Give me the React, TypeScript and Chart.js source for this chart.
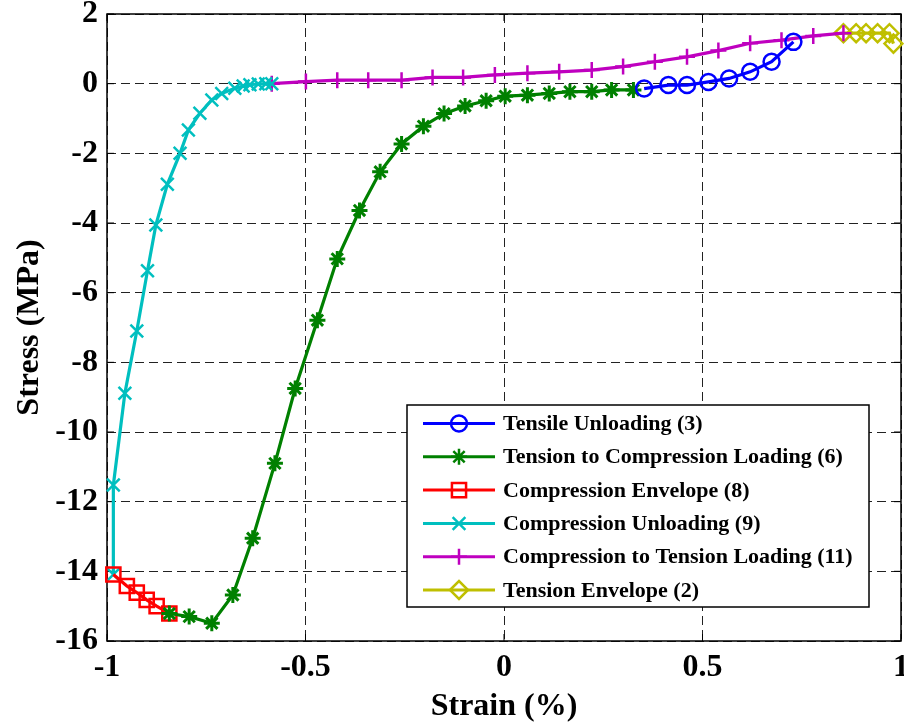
import React, { useEffect, useRef } from 'react';
import { Chart, registerables } from 'chart.js';

Chart.register(...registerables);

// ---- tick labels ----
const xTickValues = [-1, -0.5, 0, 0.5, 1];
const xTickLabels = ['-1', '-0.5', '0', '0.5', '1'];
const yTickValues = [-16, -14, -12, -10, -8, -6, -4, -2, 0, 2];
const yTickLabels = ['-16', '-14', '-12', '-10', '-8', '-6', '-4', '-2', '0', '2'];

// ---- series labels ----
const seriesLabels = [
  'Tensile Unloading (3)',
  'Tension to Compression Loading (6)',
  'Compression Envelope (8)',
  'Compression Unloading (9)',
  'Compression to Tension Loading (11)',
  'Tension Envelope (2)',
];

// ---- series values (strain %, stress MPa) ----
const tensileUnloadingX = [0.729, 0.674, 0.620, 0.567, 0.515, 0.461, 0.414, 0.353];
const tensileUnloadingY = [1.20, 0.63, 0.34, 0.15, 0.05, -0.04, -0.04, -0.14];

const tensionToCompX = [-0.843, -0.793, -0.736, -0.683, -0.633, -0.577, -0.526, -0.470, -0.420, -0.364, -0.312, -0.258, -0.203, -0.151, -0.098, -0.045, 0.003, 0.059, 0.114, 0.166, 0.221, 0.271, 0.326];
const tensionToCompY = [-15.21, -15.30, -15.49, -14.68, -13.05, -10.90, -8.75, -6.79, -5.03, -3.64, -2.53, -1.73, -1.22, -0.86, -0.64, -0.49, -0.36, -0.33, -0.28, -0.23, -0.23, -0.18, -0.18];

const compEnvelopeX = [-0.984, -0.950, -0.925, -0.900, -0.875, -0.843];
const compEnvelopeY = [-14.09, -14.42, -14.61, -14.82, -15.00, -15.21];

const compUnloadingX = [-0.984, -0.984, -0.955, -0.925, -0.898, -0.877, -0.848, -0.816, -0.795, -0.766, -0.736, -0.711, -0.678, -0.657, -0.640, -0.619, -0.600, -0.585];
const compUnloadingY = [-14.09, -11.52, -8.89, -7.10, -5.37, -4.06, -2.89, -2.00, -1.33, -0.85, -0.47, -0.28, -0.13, -0.07, -0.03, -0.01, 0.0, 0.0];

const compToTensionX = [-0.585, -0.499, -0.420, -0.342, -0.258, -0.180, -0.103, -0.023, 0.059, 0.139, 0.221, 0.300, 0.380, 0.461, 0.540, 0.620, 0.699, 0.779, 0.855];
const compToTensionY = [0.00, 0.06, 0.10, 0.10, 0.10, 0.18, 0.18, 0.25, 0.30, 0.34, 0.39, 0.49, 0.63, 0.77, 0.95, 1.16, 1.25, 1.37, 1.45];

const tensionEnvelopeX = [0.855, 0.887, 0.912, 0.941, 0.971, 0.981];
const tensionEnvelopeY = [1.45, 1.45, 1.45, 1.45, 1.45, 1.15];

const seriesColors = ['#0000FF', '#008000', '#FF0000', '#00BFBF', '#BF00BF', '#BFBF00'];
const seriesMarkers = ['circle', 'star', 'rect', 'crossRot', 'cross', 'rectRot'];
const seriesRadii = [8, 8, 10, 9, 8, 9];

const FONT = '"Liberation Serif", "Times New Roman", serif';

function drawMarker(ctx: CanvasRenderingContext2D, style: string, x: number, y: number, r: number) {
  ctx.beginPath();
  if (style === 'circle') {
    ctx.arc(x, y, r, 0, Math.PI * 2);
  } else if (style === 'rect') {
    const s = r * Math.SQRT1_2;
    ctx.rect(x - s, y - s, 2 * s, 2 * s);
  } else if (style === 'rectRot') {
    ctx.moveTo(x - r, y);
    ctx.lineTo(x, y - r);
    ctx.lineTo(x + r, y);
    ctx.lineTo(x, y + r);
    ctx.closePath();
  } else if (style === 'cross') {
    ctx.moveTo(x, y - r); ctx.lineTo(x, y + r);
    ctx.moveTo(x - r, y); ctx.lineTo(x + r, y);
  } else if (style === 'crossRot') {
    const s = r * Math.SQRT1_2;
    ctx.moveTo(x - s, y - s); ctx.lineTo(x + s, y + s);
    ctx.moveTo(x - s, y + s); ctx.lineTo(x + s, y - s);
  } else if (style === 'star') {
    const s = r * Math.SQRT1_2;
    ctx.moveTo(x, y - r); ctx.lineTo(x, y + r);
    ctx.moveTo(x - r, y); ctx.lineTo(x + r, y);
    ctx.moveTo(x - s, y - s); ctx.lineTo(x + s, y + s);
    ctx.moveTo(x - s, y + s); ctx.lineTo(x + s, y - s);
  }
  ctx.stroke();
}

const framePlugin = {
  id: 'matlabFrame',
  beforeDatasetsDraw(chart: any) {
    const { ctx, chartArea: a, scales } = chart;
    ctx.save();
    ctx.strokeStyle = '#000';
    ctx.lineWidth = 1.5;
    ctx.setLineDash([]);
    ctx.strokeRect(a.left, a.top, a.right - a.left, a.bottom - a.top);
    const tl = 7;
    ctx.lineWidth = 1;
    ctx.beginPath();
    xTickValues.forEach((v) => {
      const px = scales.x.getPixelForValue(v);
      ctx.moveTo(px, a.bottom); ctx.lineTo(px, a.bottom - tl);
      ctx.moveTo(px, a.top); ctx.lineTo(px, a.top + tl);
    });
    yTickValues.forEach((v) => {
      const py = scales.y.getPixelForValue(v);
      ctx.moveTo(a.left, py); ctx.lineTo(a.left + tl, py);
      ctx.moveTo(a.right, py); ctx.lineTo(a.right - tl, py);
    });
    ctx.stroke();
    ctx.restore();
  },
};

const legendPlugin = {
  id: 'matlabLegend',
  afterDraw(chart: any) {
    const { ctx } = chart;
    const left = 407, top = 405, right = 869, bottom = 607;
    ctx.save();
    ctx.fillStyle = '#fff';
    ctx.fillRect(left, top, right - left, bottom - top);
    ctx.strokeStyle = '#000';
    ctx.lineWidth = 1.5;
    ctx.setLineDash([]);
    ctx.strokeRect(left, top, right - left, bottom - top);
    ctx.font = `bold 22px ${FONT}`;
    ctx.textBaseline = 'middle';
    ctx.textAlign = 'left';
    seriesLabels.forEach((label, i) => {
      const y = 423.5 + i * 33.3;
      ctx.strokeStyle = seriesColors[i];
      ctx.lineWidth = 3;
      ctx.beginPath();
      ctx.moveTo(423, y);
      ctx.lineTo(495, y);
      ctx.stroke();
      ctx.lineWidth = 2.5;
      drawMarker(ctx, seriesMarkers[i], 459, y, seriesRadii[i]);
      ctx.fillStyle = '#000';
      ctx.fillText(label, 503, y + 1);
    });
    ctx.restore();
  },
};

export default function App() {
  const ref = useRef<HTMLCanvasElement>(null);
  useEffect(() => {
    if (!ref.current) return;
    const xs = [tensileUnloadingX, tensionToCompX, compEnvelopeX, compUnloadingX, compToTensionX, tensionEnvelopeX];
    const ys = [tensileUnloadingY, tensionToCompY, compEnvelopeY, compUnloadingY, compToTensionY, tensionEnvelopeY];
    const datasets = seriesLabels.map((label, i) => ({
      label,
      data: xs[i].map((x, j) => ({ x, y: ys[i][j] })),
      showLine: true,
      borderColor: seriesColors[i],
      backgroundColor: 'rgba(0,0,0,0)',
      borderWidth: 3.2,
      pointStyle: seriesMarkers[i] as any,
      pointRadius: seriesRadii[i],
      pointBorderWidth: i === 1 ? 3 : 2.5,
      pointBorderColor: seriesColors[i],
      pointBackgroundColor: 'rgba(0,0,0,0)',
      tension: 0,
      clip: false as any,
    }));
    const chart = new Chart(ref.current, {
      type: 'scatter',
      data: { datasets },
      plugins: [framePlugin, legendPlugin],
      options: {
        animation: false,
        responsive: false,
        events: [],
        layout: { autoPadding: false, padding: { top: 14, right: 3, left: 0, bottom: 0 } },
        plugins: { legend: { display: false }, tooltip: { enabled: false } },
        scales: {
          x: {
            type: 'linear',
            min: -1,
            max: 1,
            afterFit: (s: any) => { s.height = 86; s.paddingLeft = 0; s.paddingRight = 0; },
            afterBuildTicks: (s: any) => { s.ticks = xTickValues.map((v) => ({ value: v })); },
            ticks: {
              padding: 8,
              maxRotation: 0,
              autoSkip: false,
              color: '#000',
              font: { family: FONT, size: 32, weight: 'bold' },
              callback: (v: any) => xTickLabels[xTickValues.indexOf(Number(v))] ?? '',
            },
            grid: { color: '#222', lineWidth: 1, drawTicks: false },
            border: { display: false, dash: [9, 5] },
            title: {
              display: true,
              text: 'Strain (%)',
              color: '#000',
              font: { family: FONT, size: 32, weight: 'bold' },
              padding: { top: 0, bottom: 1 },
            },
          },
          y: {
            type: 'linear',
            min: -16,
            max: 2,
            afterFit: (s: any) => { s.width = 107; s.paddingTop = 0; s.paddingBottom = 0; },
            afterBuildTicks: (s: any) => { s.ticks = yTickValues.map((v) => ({ value: v })); },
            ticks: {
              padding: 9,
              autoSkip: false,
              color: '#000',
              font: { family: FONT, size: 32, weight: 'bold' },
              callback: (v: any) => yTickLabels[yTickValues.indexOf(Number(v))] ?? '',
            },
            grid: { color: '#222', lineWidth: 1, drawTicks: false },
            border: { display: false, dash: [9, 5] },
            title: {
              display: true,
              text: 'Stress (MPa)',
              color: '#000',
              font: { family: FONT, size: 32, weight: 'bold' },
              padding: { top: 11, bottom: 0 },
            },
          },
        },
      } as any,
    });
    return () => chart.destroy();
  }, []);
  return (
    <div style={{ position: 'absolute', left: 0, top: 0, width: 904, height: 727, background: '#fff' }}>
      <canvas ref={ref} width={904} height={727} style={{ display: 'block' }} />
    </div>
  );
}
